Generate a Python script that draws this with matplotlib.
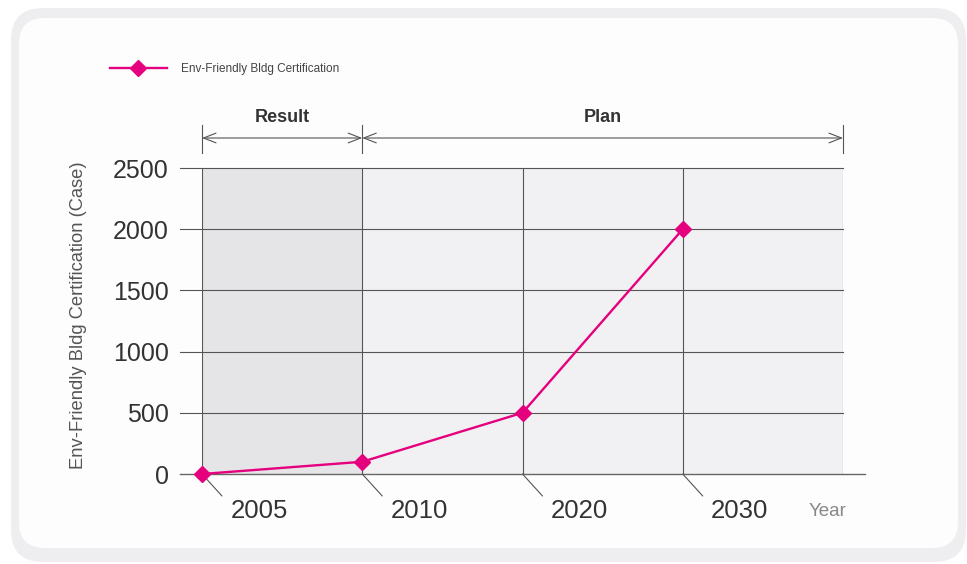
import matplotlib.pyplot as plt
from matplotlib.patches import FancyBboxPatch
from matplotlib.transforms import offset_copy

# certification counts per year
years = ["2005", "2010", "2020", "2030"]
cases = [0, 100, 500, 2000]
y_ticks = [0, 500, 1000, 1500, 2000, 2500]
series_name = "Env-Friendly Bldg Certification"
y_title = "Env-Friendly Bldg Certification (Case)"
period_names = ["Result", "Plan"]
period_spans = [(0, 1), (1, 4)]

pink = "#e5007d"
grid_c = "#555555"
fam = ["Liberation Sans", "DejaVu Sans"]
plt.rcParams["font.family"] = fam

W, H = 967, 564
fig = plt.figure(figsize=(W / 100, H / 100), dpi=100)
fig.patch.set_facecolor("white")

# rounded card behind everything, drawn in pixel units
bg = fig.add_axes([0, 0, 1, 1], zorder=0)
bg.set_xlim(0, W)
bg.set_ylim(H, 0)
bg.axis("off")
bg.add_patch(FancyBboxPatch((11, 8), 955, 554, boxstyle="round,pad=0,rounding_size=32",
                            fc="#eeeef0", ec="none"))
bg.add_patch(FancyBboxPatch((19, 18), 939, 530, boxstyle="round,pad=0,rounding_size=26",
                            fc="#fdfdfd", ec="none"))

# main plot: x=0..4 spans pixels 202..843, y=0..2500 spans 474..168
ax = fig.add_axes([202 / W, (H - 474) / H, 641 / W, 306 / H], zorder=1)
ax.set_xlim(0, 4)
ax.set_ylim(0, 2500)
ax.patch.set_alpha(0)
for s in ax.spines.values():
    s.set_visible(False)

px_x = 4 / 641          # data units per pixel
px_y = 2500 / 306
left_ext = -22 * px_x

ax.axvspan(0, 1, color="#e5e5e8", zorder=0)
ax.axvspan(1, 4, color="#f1f1f3", zorder=0)

for v in y_ticks[1:]:
    ax.plot([left_ext, 4], [v, v], color=grid_c, lw=0.8, clip_on=False, zorder=1)
ax.plot([left_ext, 4 + 22 * px_x], [0, 0], color="#666666", lw=1.0, clip_on=False, zorder=1)
for i in range(5):
    ax.plot([i, i], [0, 2500], color=grid_c, lw=0.8, zorder=1)

xs = list(range(len(years)))
ax.plot(xs, cases, color=pink, lw=1.7, marker="D", ms=8.5, mec=pink, mfc=pink,
        clip_on=False, zorder=5, label=series_name)

# y tick labels
ax.set_yticks(y_ticks)
ax.set_yticklabels([str(v) for v in y_ticks], fontsize=18, color="#333333")
ax.tick_params(axis="y", length=0, pad=24)
ax.set_xticks([])
ax.set_ylabel(y_title, fontsize=13.2, color="#555555")
ax.yaxis.set_label_coords(-115 / 641, 0.52)

# slanted leaders and offset year labels
for i, yr in enumerate(years):
    ax.annotate("", xy=(i, 0), xytext=(20, -22), textcoords="offset pixels",
                arrowprops=dict(arrowstyle="-", color="#555555", lw=0.8,
                                shrinkA=0, shrinkB=0))
    tr = offset_copy(ax.transData, fig=fig, x=57, y=-37, units="dots")
    ax.text(i, 0, yr, transform=tr, ha="center", va="center",
            fontsize=18.5, color="#333333")
tr = offset_copy(ax.transData, fig=fig, x=-15, y=-37, units="dots")
ax.text(4, 0, "Year", transform=tr, ha="center", va="center",
        fontsize=13.5, color="#888888")

# Result / Plan brackets
y_br = 2500 + 30 * px_y
for name, (a, b) in zip(period_names, period_spans):
    ax.annotate("", xy=(a, y_br), xytext=(b, y_br), annotation_clip=False,
                arrowprops=dict(arrowstyle="<->,head_length=0.9,head_width=0.35",
                                color="#555555", lw=0.8, shrinkA=0, shrinkB=0))
    ax.text((a + b) / 2, 2500 + 51 * px_y, name, ha="center", va="center",
            fontsize=13, fontweight="bold", color="#333333")
for xb in [0, 1, 4]:
    ax.plot([xb, xb], [2500 + 15 * px_y, 2500 + 43 * px_y], color="#555555",
            lw=0.8, clip_on=False)

leg = ax.legend(loc="center left", bbox_to_anchor=(110 / W, 1 - 69 / H),
                bbox_transform=fig.transFigure, frameon=False,
                handlelength=4.8, handletextpad=1.2, borderpad=0, borderaxespad=0,
                prop={"size": 8.5})
for t in leg.get_texts():
    t.set_color("#444444")

fig.savefig("out.png", dpi=100)
